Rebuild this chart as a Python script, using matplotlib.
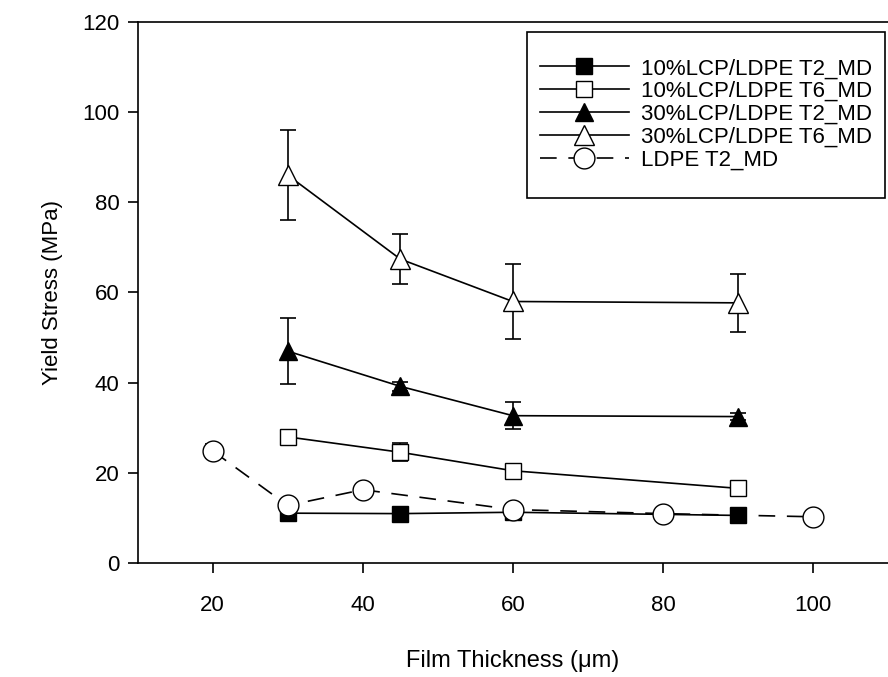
import matplotlib.pyplot as plt
from matplotlib.patches import Rectangle

plt.rcParams['font.family'] = ['Liberation Sans', 'DejaVu Sans']

# film thickness (um)
x_lcp = [30, 45, 60, 90]
x_ldpe = [20, 30, 40, 60, 80, 100]

# yield stress (MPa) and error bars
lcp10_t2 = [11.1, 11.0, 11.3, 10.6]
lcp10_t2_err = [0.6, 0.6, 0.6, 0.6]
lcp10_t6 = [28.0, 24.6, 20.5, 16.6]
lcp10_t6_err = [1.5, 2.0, 0.8, 0.8]
lcp30_t2 = [47.0, 39.2, 32.7, 32.5]
lcp30_t2_err = [7.3, 1.0, 3.0, 0.8]
lcp30_t6 = [86.0, 67.4, 58.0, 57.7]
lcp30_t6_err = [10.0, 5.5, 8.3, 6.5]
ldpe_t2 = [24.9, 12.8, 16.3, 11.9, 11.0, 10.3]
ldpe_t2_err = [1.5, 1.0, 0.5, 0.5, 0.5, 0.5]

labels = ['10%LCP/LDPE T2_MD', '10%LCP/LDPE T6_MD', '30%LCP/LDPE T2_MD',
          '30%LCP/LDPE T6_MD', 'LDPE T2_MD']

fig = plt.figure(figsize=(8.88, 6.77), dpi=100)
ax = fig.add_axes([0.155, 0.168, 0.845, 0.8])

common = dict(color='black', lw=1.2, elinewidth=1.2, capsize=6, capthick=1.2, mec='black')

ax.errorbar(x_lcp, lcp10_t2, yerr=lcp10_t2_err, marker='s', ms=12, mfc='black',
            label=labels[0], zorder=3, **common)
ax.errorbar(x_lcp, lcp10_t6, yerr=lcp10_t6_err, marker='s', ms=12, mfc='white',
            label=labels[1], zorder=3, **common)
ax.errorbar(x_lcp, lcp30_t2, yerr=lcp30_t2_err, marker='^', ms=13, mfc='black',
            label=labels[2], zorder=3, **common)
ax.errorbar(x_lcp, lcp30_t6, yerr=lcp30_t6_err, marker='^', ms=14, mfc='white',
            label=labels[3], zorder=3, **common)
ax.errorbar(x_ldpe, ldpe_t2, yerr=ldpe_t2_err, marker='o', ms=15, mfc='white',
            ls=(0, (10, 7)), label=labels[4], zorder=4, **common)

ax.set_xlim(10, 110)
ax.set_ylim(0, 120)
ax.set_xticks([20, 40, 60, 80, 100])
ax.set_yticks([0, 20, 40, 60, 80, 100, 120])
ax.spines['right'].set_visible(False)
for s in ['left', 'bottom', 'top']:
    ax.spines[s].set_linewidth(1.2)
ax.tick_params(direction='out', length=7, width=1.2, labelsize=16, top=False, right=False)
ax.tick_params(axis='x', pad=16)
ax.tick_params(axis='y', pad=6)
ax.set_xlabel('Film Thickness (\u03bcm)', fontsize=17, labelpad=24)
ax.set_ylabel('Yield Stress (MPa)', fontsize=16, labelpad=14)

# legend box is taller than the entries need, so draw the frame by hand
frame = Rectangle((0.593, 0.708), 0.404, 0.245, transform=fig.transFigure,
                  fill=True, facecolor='white', edgecolor='black', lw=1.2, zorder=5)
fig.add_artist(frame)

handles, lbls = ax.get_legend_handles_labels()
handles = [h[0] for h in handles]
leg = fig.legend(handles, lbls, loc='upper left', bbox_to_anchor=(0.608, 0.914),
                 fontsize=16, handlelength=4.0, labelspacing=0.08, borderpad=0,
                 borderaxespad=0, frameon=False, handletextpad=0.55)
leg.set_zorder(6)

fig.savefig('out.png', dpi=100)
